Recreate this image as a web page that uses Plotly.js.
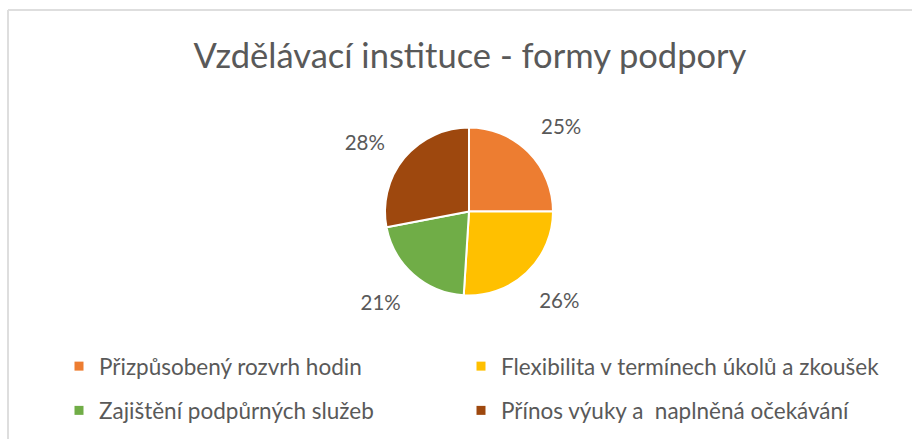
<!DOCTYPE html>
<html>
<head>
<meta charset="utf-8">
<script src="https://cdn.plot.ly/plotly-3.0.1.min.js"></script>
<style>
  html, body { margin: 0; padding: 0; background: #ffffff; }
  #chart { width: 912px; height: 439px; }
</style>
</head>
<body>
<div id="chart"></div>
<script>
// ---- data ----
const categories = [
  "Přizpůsobený rozvrh hodin",
  "Flexibilita v termínech úkolů a zkoušek",
  "Zajištění podpůrných služeb",
  "Přínos výuky a  naplněná očekávání"
];
const shares = [25, 26, 21, 28];
const sliceColors = ["#ED7D31", "#FFC000", "#70AD47", "#9E480E"];
const legendColumn = ["legend", "legend2", "legend", "legend2"];

const W = 912, H = 439;
const FONT = "Lato, 'Open Sans', sans-serif";
const TXT = "#595959";

// pie geometry (pixels)
const cx = 469, cy = 211.5, r = 84;

// label templates: empty padding lines keep the labels a bit farther from the pie
const NB = "\u00a0";
const labelTemplates = [
  "%{percent}<br>" + NB,
  NB + "<br>%{percent}",
  NB + "<br>%{percent}",
  NB + "<br>%{percent}<br>" + NB
];

const pie = {
  type: "pie",
  labels: categories,
  values: shares,
  sort: false,
  direction: "clockwise",
  rotation: 0,
  marker: { colors: sliceColors, line: { color: "#ffffff", width: 2 } },
  texttemplate: labelTemplates,
  textposition: "outside",
  outsidetextfont: { family: FONT, size: 20.5, color: TXT },
  showlegend: false,
  hoverinfo: "label+percent",
  domain: {
    x: [(cx - r) / W, (cx + r) / W],
    y: [(H - cy - r) / H, (H - cy + r) / H]
  }
};

// legend entries, one per category, drawn by the library's legend
const legendTraces = categories.map((c, i) => ({
  type: "scatter",
  mode: "markers",
  x: [null], y: [null],
  name: c,
  legend: legendColumn[i],
  legendgroup: "g" + i,
  marker: { symbol: "square", size: 9, color: sliceColors[i], line: { width: 0 } },
  hoverinfo: "skip",
  showlegend: true
}));

const legendCommon = {
  orientation: "v",
  traceorder: "grouped",
  tracegroupgap: 12,
  font: { family: FONT, size: 22.5, color: TXT },
  bgcolor: "rgba(0,0,0,0)",
  xanchor: "left",
  yanchor: "top",
  y: 1 - 345 / H
};

const layout = {
  width: W, height: H,
  margin: { l: 0, r: 0, t: 0, b: 0 },
  paper_bgcolor: "#ffffff",
  plot_bgcolor: "#ffffff",
  title: {
    text: "Vzdělávací instituce - formy podpory",
    font: { family: FONT, size: 34.5, color: TXT },
    x: 470 / W, xanchor: "center", xref: "paper",
    y: 1 - 56 / H, yanchor: "middle", yref: "container"
  },
  xaxis: { visible: false },
  yaxis: { visible: false },
  legend: Object.assign({}, legendCommon, { x: 59 / W }),
  legend2: Object.assign({}, legendCommon, { x: 461 / W }),
  shapes: [
    { type: "line", xref: "paper", yref: "paper", x0: 8 / W, x1: 1, y0: 1 - 10 / H, y1: 1 - 10 / H,
      line: { color: "#dedede", width: 2 } },
    { type: "line", xref: "paper", yref: "paper", x0: 8 / W, x1: 8 / W, y0: 0, y1: 1 - 10 / H,
      line: { color: "#dedede", width: 2 } }
  ],
  showlegend: true
};

Plotly.newPlot("chart", [pie].concat(legendTraces), layout, { displayModeBar: false, staticPlot: true });
</script>
</body>
</html>
